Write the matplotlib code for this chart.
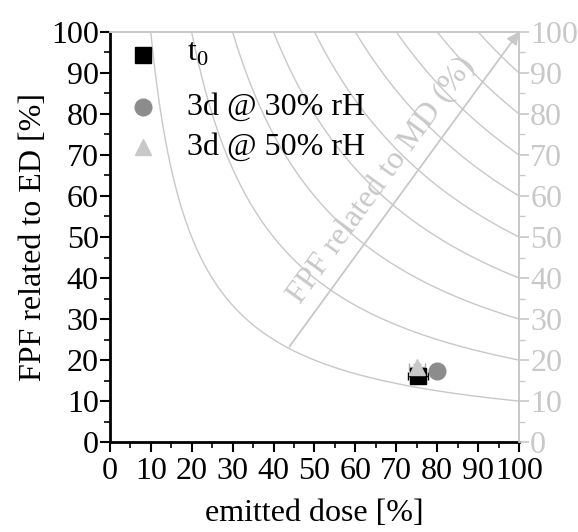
import numpy as np
import matplotlib
matplotlib.use("Agg")
import matplotlib.pyplot as plt

plt.rcParams['font.family'] = ['Liberation Serif', 'DejaVu Serif']
plt.rcParams['mathtext.fontset'] = 'custom'
plt.rcParams['mathtext.rm'] = 'Liberation Serif'

# Data: emitted dose (ED) and FPF related to ED, with error bars
series_labels = ['t$_0$', '3d @ 30% rH', '3d @ 50% rH']
ed_values = [75.3, 80.0, 75.0]
fpf_ed_values = [16.2, 17.4, 18.3]
ed_err = [2.4, 0.0, 2.0]
fpf_err = [1.0, 0.0, 0.8]
marker_styles = ['s', 'o', '^']
marker_colors = ['#000000', '#8c8c8c', '#c8c8c8']

# Iso-lines of FPF related to metered dose (MD) = ED * FPF_ED / 100
md_levels = [10, 20, 30, 40, 50, 60, 70, 80, 90]
ticks = [0, 10, 20, 30, 40, 50, 60, 70, 80, 90, 100]

GRAY = '#c8c8c8'
FS = 23

fig = plt.figure(figsize=(5.78, 5.32), dpi=100)
ax = fig.add_axes([0.190, 0.169, 0.708, 0.771])

for k in md_levels:
    x = np.linspace(k, 100, 300)
    ax.plot(x, 100.0 * k / x, color=GRAY, lw=1.0, zorder=1)

# Direction arrow for increasing FPF related to MD
ax.annotate('', xy=(100, 100), xytext=(43.9, 23.3),
            arrowprops=dict(arrowstyle='-|>', color=GRAY, lw=1.3,
                            mutation_scale=18, shrinkA=0, shrinkB=0),
            zorder=2)
ax.text(66.3, 63.8, 'FPF related to MD (%)', color=GRAY, fontsize=23,
        rotation=54, rotation_mode='anchor', ha='center', va='center',
        transform=ax.transData, zorder=2)

for x, y, xe, ye, m, c in zip(ed_values, fpf_ed_values, ed_err, fpf_err,
                              marker_styles, marker_colors):
    ax.errorbar(x, y, xerr=xe if xe else None, yerr=ye if ye else None,
                fmt=m, color=c, ms=11 if m != 'o' else 12, mec=c,
                ecolor='black' if m == 's' else '#aaaaaa', elinewidth=1,
                capsize=3, zorder=3)

ax.set_xlim(0, 100)
ax.set_ylim(0, 100)
ax.set_xticks(ticks)
ax.set_yticks(ticks)
ax.set_xticks(np.arange(5, 100, 10), minor=True)
ax.set_yticks(np.arange(5, 100, 10), minor=True)
ax.tick_params(which='major', direction='out', length=7, width=1.5,
               labelsize=FS, pad=1)
ax.tick_params(axis='x', which='major', pad=4)
ax.tick_params(which='minor', direction='out', length=4, width=1.2)
for s in ['left', 'bottom']:
    ax.spines[s].set_linewidth(2)
ax.spines['top'].set_color(GRAY)
ax.spines['right'].set_color(GRAY)
ax.spines['top'].set_linewidth(1.2)
ax.spines['right'].set_linewidth(1.2)

ax2 = ax.twinx()
ax2.set_ylim(0, 100)
ax2.set_yticks(ticks)
ax2.set_yticks(np.arange(5, 100, 10), minor=True)
ax2.tick_params(which='major', direction='out', length=7, width=1.2,
                colors=GRAY, labelsize=FS, pad=1)
ax2.tick_params(which='minor', direction='out', length=4, width=1.0,
                colors=GRAY)
for s in ['top', 'right']:
    ax2.spines[s].set_color(GRAY)
    ax2.spines[s].set_linewidth(1.2)
ax2.spines['left'].set_visible(False)
ax2.spines['bottom'].set_visible(False)

for t in ax.get_xticklabels() + ax.get_yticklabels() + ax2.get_yticklabels():
    t.set_fontsize(FS)

ax.set_xlabel('emitted dose [%]', fontsize=FS, labelpad=9)
ax.set_ylabel('FPF related to ED [%]', fontsize=FS, labelpad=2)

# Legend entries
leg_y = [0.943, 0.816, 0.719]
for yy, lab, m, c in zip(leg_y, series_labels, marker_styles, marker_colors):
    ax.plot([0.081], [yy], marker=m, color=c, ms=11 if m != 'o' else 12,
            transform=ax.transAxes, clip_on=False, zorder=4)
    ax.text(0.188, yy + (0.005 if m == 's' else 0.0), lab, fontsize=FS,
            va='center', ha='left', transform=ax.transAxes, zorder=4)

fig.savefig('out.png', dpi=100)
